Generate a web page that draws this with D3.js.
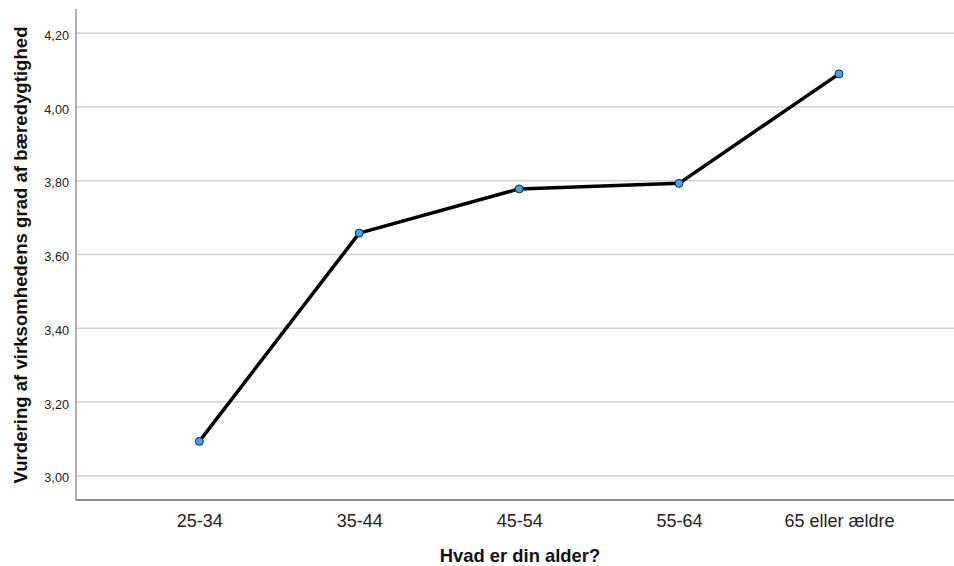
<!DOCTYPE html>
<html><head><meta charset="utf-8">
<script src="https://cdn.jsdelivr.net/npm/d3@7"></script>
<style>body{margin:0;background:#fff}svg{display:block}text{font-family:"Liberation Sans",Arial,sans-serif}</style>
</head><body>
<svg id="c" width="954" height="566"></svg>
<script>
const categories = ["25-34","35-44","45-54","55-64","65 eller ældre"];
const values = [3.093, 3.658, 3.778, 3.793, 4.090];
const yTicks = [3.0, 3.2, 3.4, 3.6, 3.8, 4.0, 4.2];
const xTitle = "Hvad er din alder?";
const yTitle = "Vurdering af virksomhedens grad af bæredygtighed";

(function(){
const svg = d3.select("#c");
const pLeft = 76, pRight = 954, pTop = 9, pBottom = 500;
const x = d3.scalePoint().domain(categories).range([199.3, 839]);
const y = d3.scaleLinear().domain([2.934, 4.266]).range([pBottom, pTop]);

// grid
svg.append("g").selectAll("line").data(yTicks).join("line")
  .attr("x1", pLeft).attr("x2", pRight)
  .attr("y1", d => y(d)).attr("y2", d => y(d))
  .attr("stroke", "#d2d2d2").attr("stroke-width", 1.5);

// y axis
const ya = svg.append("g").attr("transform", `translate(${pLeft},2)`)
  .call(d3.axisLeft(y).tickValues(yTicks).tickSize(0).tickPadding(7)
    .tickFormat(d => d3.format(".2f")(d).replace(".", ",")));
ya.select(".domain").remove();
ya.selectAll("text").attr("font-size", 12.7).attr("fill", "#222")
  .style("font-family", "'Liberation Sans',Arial,sans-serif");
svg.append("line").attr("x1", pLeft).attr("x2", pLeft).attr("y1", pTop).attr("y2", pBottom)
  .attr("stroke", "#888").attr("stroke-width", 1.3);

// x axis
const xa = svg.append("g").attr("transform", `translate(0,${pBottom})`)
  .call(d3.axisBottom(x).tickSize(0).tickPadding(14));
xa.select(".domain").remove();
xa.selectAll("text").attr("font-size", 18).attr("fill", "#222")
  .style("font-family", "'Liberation Sans',Arial,sans-serif");
svg.append("line").attr("x1", pLeft).attr("x2", pRight).attr("y1", pBottom).attr("y2", pBottom)
  .attr("stroke", "#666").attr("stroke-width", 1.3);

// titles
svg.append("text").attr("x", 520).attr("y", 562).attr("text-anchor", "middle")
  .attr("font-size", 18.4).attr("font-weight", "bold").attr("fill", "#111").text(xTitle);
svg.append("text").attr("transform", "translate(27,255) rotate(-90)").attr("text-anchor", "middle")
  .attr("font-size", 18.6).attr("font-weight", "bold").attr("fill", "#111").text(yTitle);

// line
const line = d3.line().x((d,i) => x(categories[i])).y(d => y(d));
svg.append("path").datum(values).attr("d", line).attr("fill", "none")
  .attr("stroke", "#000").attr("stroke-width", 3.5).attr("stroke-linejoin", "round");

svg.append("g").selectAll("circle").data(values).join("circle")
  .attr("cx", (d,i) => x(categories[i])).attr("cy", d => y(d)).attr("r", 4)
  .attr("fill", "#3ea3ef").attr("stroke", "#1a2a3a").attr("stroke-width", 1);
})();
</script>
</body></html>
